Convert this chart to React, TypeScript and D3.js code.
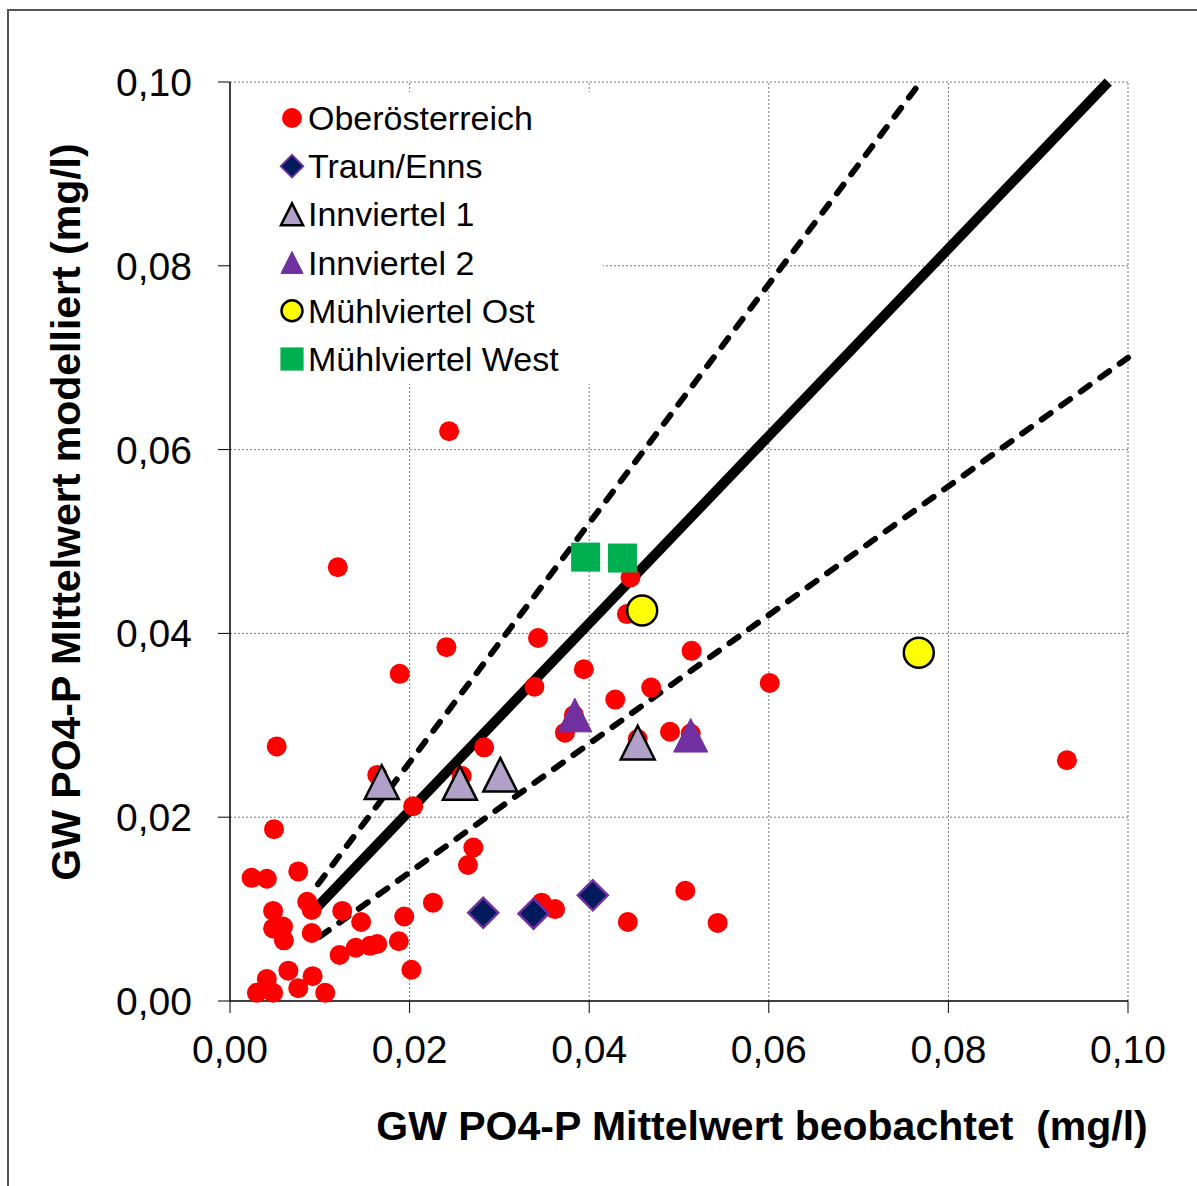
import React from 'react';
import * as d3 from 'd3';

// values (mg/l)
const oberoesterreich: [number, number][] = [
  [0.0244, 0.062], [0.012, 0.0472], [0.0241, 0.0385], [0.0189, 0.0356], [0.0343, 0.0395],
  [0.0339, 0.0342], [0.0394, 0.0361], [0.0446, 0.0461], [0.0442, 0.0421], [0.0514, 0.0381],
  [0.0469, 0.0341], [0.0429, 0.0328], [0.0373, 0.0292], [0.049, 0.0293], [0.0601, 0.0346],
  [0.0932, 0.0262], [0.0052, 0.0277], [0.0283, 0.0276], [0.0204, 0.0212], [0.0049, 0.0187],
  [0.0271, 0.0167], [0.0265, 0.0148], [0.0024, 0.0134], [0.0041, 0.0133], [0.0076, 0.0141],
  [0.0086, 0.0108], [0.0091, 0.0099], [0.0048, 0.0098], [0.0048, 0.0079], [0.0059, 0.0081],
  [0.006, 0.0066], [0.0091, 0.0074], [0.0125, 0.0098], [0.0146, 0.0086], [0.0194, 0.0092],
  [0.0226, 0.0107], [0.0188, 0.0065], [0.0164, 0.0062], [0.0156, 0.006], [0.014, 0.0058],
  [0.0122, 0.005], [0.0202, 0.0034], [0.0065, 0.0033], [0.0092, 0.0027], [0.0041, 0.0024],
  [0.0076, 0.0014], [0.0048, 0.0009], [0.003, 0.0009], [0.0106, 0.0009], [0.0347, 0.0107],
  [0.0362, 0.01], [0.0443, 0.0086], [0.0507, 0.012], [0.0543, 0.0085], [0.0383, 0.0311],
  [0.0454, 0.0285], [0.0513, 0.0291], [0.0164, 0.0246], [0.0258, 0.0245],
];
const traunEnns: [number, number][] = [[0.0282, 0.0096], [0.0338, 0.0095], [0.0404, 0.0115]];
const innviertel1: [number, number][] = [[0.0169, 0.0238], [0.0256, 0.0237], [0.0301, 0.0246], [0.0454, 0.0281]];
const innviertel2: [number, number][] = [[0.0384, 0.0311], [0.0513, 0.0289]];
const muehlOst: [number, number][] = [[0.0459, 0.0425], [0.0767, 0.0379]];
const muehlWest: [number, number][] = [[0.0396, 0.0483], [0.0437, 0.0482]];

// reference lines: 1:1 and +/-30 %
const lineOneToOne: [number, number][] = [[0.0093, 0.0098], [0.0978, 0.1]];
const lineUpper: [number, number][] = [[0.0098, 0.0127], [0.0769, 0.1]];
const lineLower: [number, number][] = [[0.01, 0.007], [0.1, 0.07]];

const ticks = [0, 0.02, 0.04, 0.06, 0.08, 0.1];
const tickLabels = ['0,00', '0,02', '0,04', '0,06', '0,08', '0,10'];
const legendLabels = ['Oberösterreich', 'Traun/Enns', 'Innviertel 1', 'Innviertel 2', 'Mühlviertel Ost', 'Mühlviertel West'];

const FONT = 'Arial, "Liberation Sans", sans-serif';

function Marker({ kind, cx, cy, s }: { kind: number; cx: number; cy: number; s: number }) {
  if (kind === 0) return <circle cx={cx} cy={cy} r={10 * s} fill="#ff0000" />;
  if (kind === 1) {
    const h = 15 * s;
    return (
      <path d={`M${cx},${cy - h}L${cx + h},${cy}L${cx},${cy + h}L${cx - h},${cy}Z`}
        fill="#001a5c" stroke="#7030a0" strokeWidth={2.5 * s} />
    );
  }
  if (kind === 2 || kind === 3) {
    const w = 17 * s;
    const tri = `M${cx},${cy - w}L${cx + w},${cy + w * 0.98}L${cx - w},${cy + w * 0.98}Z`;
    return kind === 2
      ? <path d={tri} fill="#b1a0c7" stroke="#000" strokeWidth={2.5} strokeLinejoin="miter" />
      : <path d={tri} fill="#7030a0" stroke="#7030a0" strokeWidth={1} />;
  }
  if (kind === 4) return <circle cx={cx} cy={cy} r={15 * s} fill="#ffff00" stroke="#000" strokeWidth={2.5} />;
  const a = 14.5 * s;
  return <rect x={cx - a} y={cy - a} width={2 * a} height={2 * a} fill="#00b050" />;
}

export default function App() {
  const x = d3.scaleLinear().domain([0, 0.1]).range([230, 1128]);
  const y = d3.scaleLinear().domain([0, 0.1]).range([1001, 82]);
  const line = d3.line<[number, number]>().x(d => x(d[0])).y(d => y(d[1]));

  const series = [oberoesterreich, traunEnns, innviertel1, innviertel2, muehlOst, muehlWest];

  return (
    <svg width={1197} height={1186} style={{ position: 'absolute', left: 0, top: 0, background: '#fff' }}
      fontFamily={FONT}>
      <rect x={8} y={10} width={1400} height={1400} fill="none" stroke="#555" strokeWidth={2} />

      {/* grid */}
      {ticks.slice(1).map(t => (
        <g key={t}>
          <line x1={x(t)} x2={x(t)} y1={y(0)} y2={y(0.1)} stroke="#777" strokeDasharray="2,2" />
          <line x1={x(0)} x2={x(0.1)} y1={y(t)} y2={y(t)} stroke="#777" strokeDasharray="2,2" />
        </g>
      ))}

      {/* legend box hides the grid */}
      <rect x={231} y={92} width={372} height={292} fill="#fff" />

      {/* axes */}
      <line x1={x(0)} x2={x(0)} y1={y(0)} y2={y(0.1)} stroke="#000" strokeWidth={1.5} />
      <line x1={x(0)} x2={x(0.1)} y1={y(0)} y2={y(0)} stroke="#000" strokeWidth={1.5} />
      {ticks.map((t, i) => (
        <g key={'t' + t}>
          <line x1={x(0) - 12} x2={x(0)} y1={y(t)} y2={y(t)} stroke="#000" strokeWidth={1} />
          <line x1={x(t)} x2={x(t)} y1={y(0)} y2={y(0) + 12} stroke="#000" strokeWidth={1} />
          <text x={192} y={y(t) + 14} textAnchor="end" fontSize={39}>{tickLabels[i]}</text>
          <text x={x(t)} y={1063} textAnchor="middle" fontSize={39}>{tickLabels[i]}</text>
        </g>
      ))}

      {/* reference lines */}
      <path d={line(lineUpper) || ''} fill="none" stroke="#000" strokeWidth={6} strokeDasharray="11,13" strokeLinecap="round" />
      <path d={line(lineLower) || ''} fill="none" stroke="#000" strokeWidth={6} strokeDasharray="11,13" strokeLinecap="round" />
      <path d={line(lineOneToOne) || ''} fill="none" stroke="#000" strokeWidth={10} />

      {/* points */}
      {series.map((pts, k) => (
        <g key={'s' + k}>
          {pts.map((p, i) => <Marker key={i} kind={k} cx={x(p[0])} cy={y(p[1])} s={1} />)}
        </g>
      ))}

      {/* legend */}
      {legendLabels.map((lab, i) => {
        const cy = 118 + i * 48.2;
        const small = [1, 0.75, 0.65, 0.65, 0.7, 0.8][i];
        return (
          <g key={lab}>
            <Marker kind={i} cx={292} cy={cy} s={small} />
            <text x={308} y={cy + 12} fontSize={34}>{lab}</text>
          </g>
        );
      })}

      {/* axis titles */}
      <text x={762} y={1140} textAnchor="middle" fontSize={41} fontWeight="bold">
        GW PO4-P Mittelwert beobachtet{'\u00a0\u00a0'}(mg/l)
      </text>
      <text transform="translate(80,512) rotate(-90)" textAnchor="middle" fontSize={41} fontWeight="bold">
        GW PO4-P MIttelwert modelliert (mg/l)
      </text>
    </svg>
  );
}
